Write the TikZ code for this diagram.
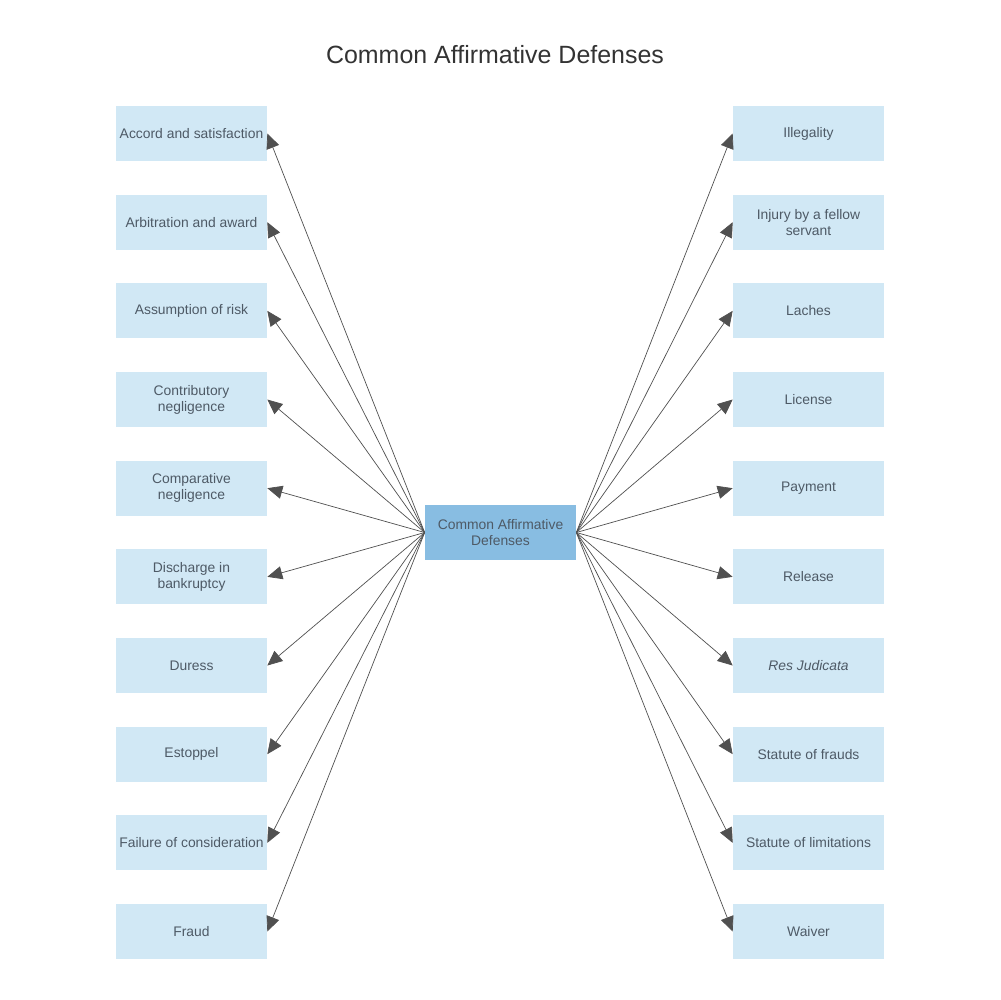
\documentclass[tikz,border=0pt]{standalone}
\usepackage{fontspec}
\setmainfont{Liberation Sans}
\usetikzlibrary{arrows.meta}
\definecolor{boxblue}{HTML}{D1E8F5}
\definecolor{midblue}{HTML}{88BDE2}
\definecolor{txtgray}{HTML}{4E5A66}
\definecolor{arrgray}{HTML}{505050}
\tikzset{
  defbox/.style={fill=boxblue,minimum width=3.02cm,minimum height=1.1cm,inner sep=0pt,
    align=center,text=txtgray,font=\fontsize{7.9}{9.2}\selectfont},
  mainbox/.style={defbox,fill=midblue},
  link/.style={arrgray,line width=0.4pt,-{Triangle[length=8.5pt,width=7.5pt]}}
}
\begin{document}
\begin{tikzpicture}[x=0.02cm,y=-0.02cm]
\useasboundingbox (0,0) rectangle (1000,1000);
\node [text=black!80,font=\fontsize{14.2}{16}\selectfont] (title) at (495,55) {Common Affirmative Defenses};
\node [mainbox] (cad) at (500.5,532.5) {Common Affirmative\\Defenses};
% left column
\foreach \t [count=\i] in {Accord and satisfaction,Arbitration and award,Assumption of risk,
  Contributory\\negligence,Comparative\\negligence,Discharge in\\bankruptcy,Duress,Estoppel,
  Failure of consideration,Fraud}
  \node [defbox] (l\i) at (191.5,{133.5+88.67*(\i-1)}) {\t};
% right column
\foreach \t [count=\i] in {Illegality,Injury by a fellow\\servant,Laches,License,Payment,Release,
  \textit{Res Judicata},Statute of frauds,Statute of limitations,Waiver}
  \node [defbox] (r\i) at (808.5,{133.5+88.67*(\i-1)}) {\t};
\foreach \i in {1,...,10}{
  \draw [link] (cad.west) -- (l\i.east);
  \draw [link] (cad.east) -- (r\i.west);
}
\end{tikzpicture}
\end{document}
